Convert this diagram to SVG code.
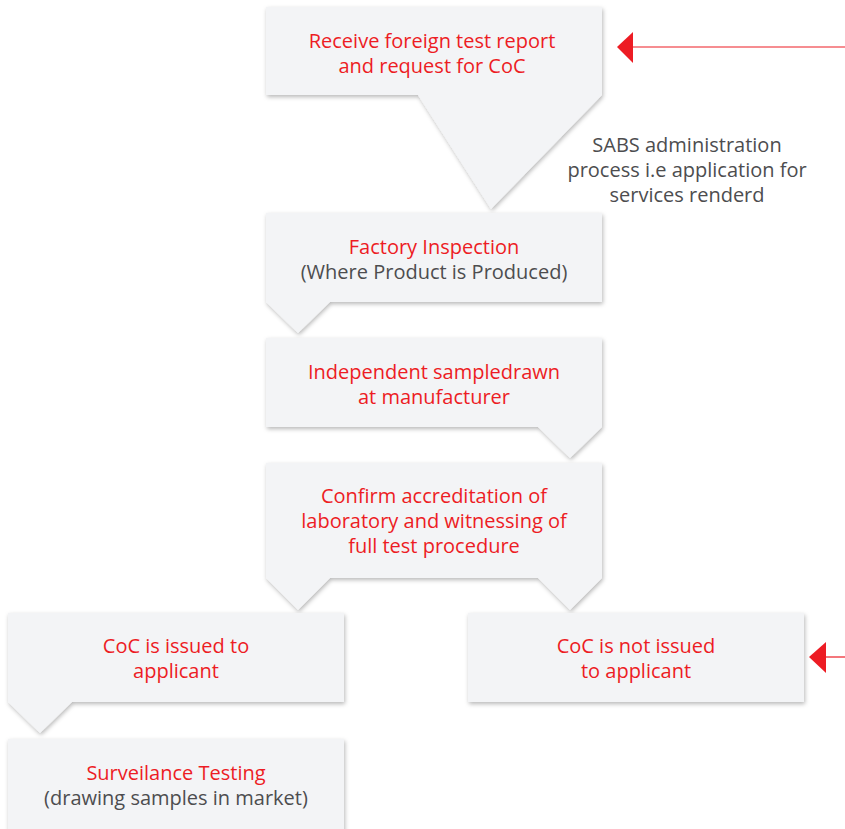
<svg xmlns="http://www.w3.org/2000/svg" width="845" height="829" viewBox="0 0 845 829">
<defs>
<filter id="sh" x="-10%" y="-10%" width="120%" height="130%">
<feDropShadow dx="1" dy="2" stdDeviation="2" flood-color="#000" flood-opacity="0.28"/>
</filter>
</defs>
<style>
.box{fill:#f3f4f6;filter:url(#sh)}
.t{font-family:"Open Sans","Liberation Sans",sans-serif;font-size:20px;text-anchor:middle}
.r{fill:#ed1c24}
.g{fill:#4d4d4f}
.ln{stroke:#ed1c24;stroke-width:1.2;fill:none}
.ah{fill:#ed1c24}
</style>
<rect width="845" height="829" fill="#fff"/>
<g id="n1">
<path class="box" d="M266,7 H602 V95 L491,209 L418,95 H266 Z"/>
<text class="t r" x="432" y="48">Receive foreign test report</text>
<text class="t r" x="432" y="73">and request for CoC</text>
</g>
<g id="note">
<text class="t g" x="687" y="152">SABS administration</text>
<text class="t g" x="687" y="177">process i.e application for</text>
<text class="t g" x="687" y="202">services renderd</text>
</g>
<g id="n2">
<path class="box" d="M266,213 H602 V302 H330 L298,333 L266,302 Z"/>
<text class="t r" x="434" y="254">Factory Inspection</text>
<text class="t g" x="434" y="279">(Where Product is Produced)</text>
</g>
<g id="n3">
<path class="box" d="M266,338 H602 V427 L570,458 L538,427 H266 Z"/>
<text class="t r" x="434" y="379">Independent sampledrawn</text>
<text class="t r" x="434" y="404">at manufacturer</text>
</g>
<g id="n4">
<path class="box" d="M266,463 H602 V578 L570,610 L538,578 H330 L298,610 L266,578 Z"/>
<text class="t r" x="434" y="503">Confirm accreditation of</text>
<text class="t r" x="434" y="528">laboratory and witnessing of</text>
<text class="t r" x="434" y="553">full test procedure</text>
</g>
<g id="n5">
<path class="box" d="M8,613 H344 V702 H72 L40,733 L8,702 Z"/>
<text class="t r" x="176" y="653">CoC is issued to</text>
<text class="t r" x="176" y="678">applicant</text>
</g>
<g id="n6">
<path class="box" d="M8,739 H344 V835 H8 Z"/>
<text class="t r" x="176" y="780">Surveilance Testing</text>
<text class="t g" x="176" y="805">(drawing samples in market)</text>
</g>
<g id="n7">
<path class="box" d="M468,613 H804 V702 H468 Z"/>
<text class="t r" x="636" y="653">CoC is not issued</text>
<text class="t r" x="636" y="678">to applicant</text>
</g>
<g id="connectors">
<line class="ln" x1="632" y1="47" x2="845" y2="47"/>
<polygon class="ah" points="617,47 633,32 633,63"/>
<line class="ln" x1="825" y1="657" x2="845" y2="657"/>
<polygon class="ah" points="809,657 826,642 826,673"/>
</g>
</svg>
